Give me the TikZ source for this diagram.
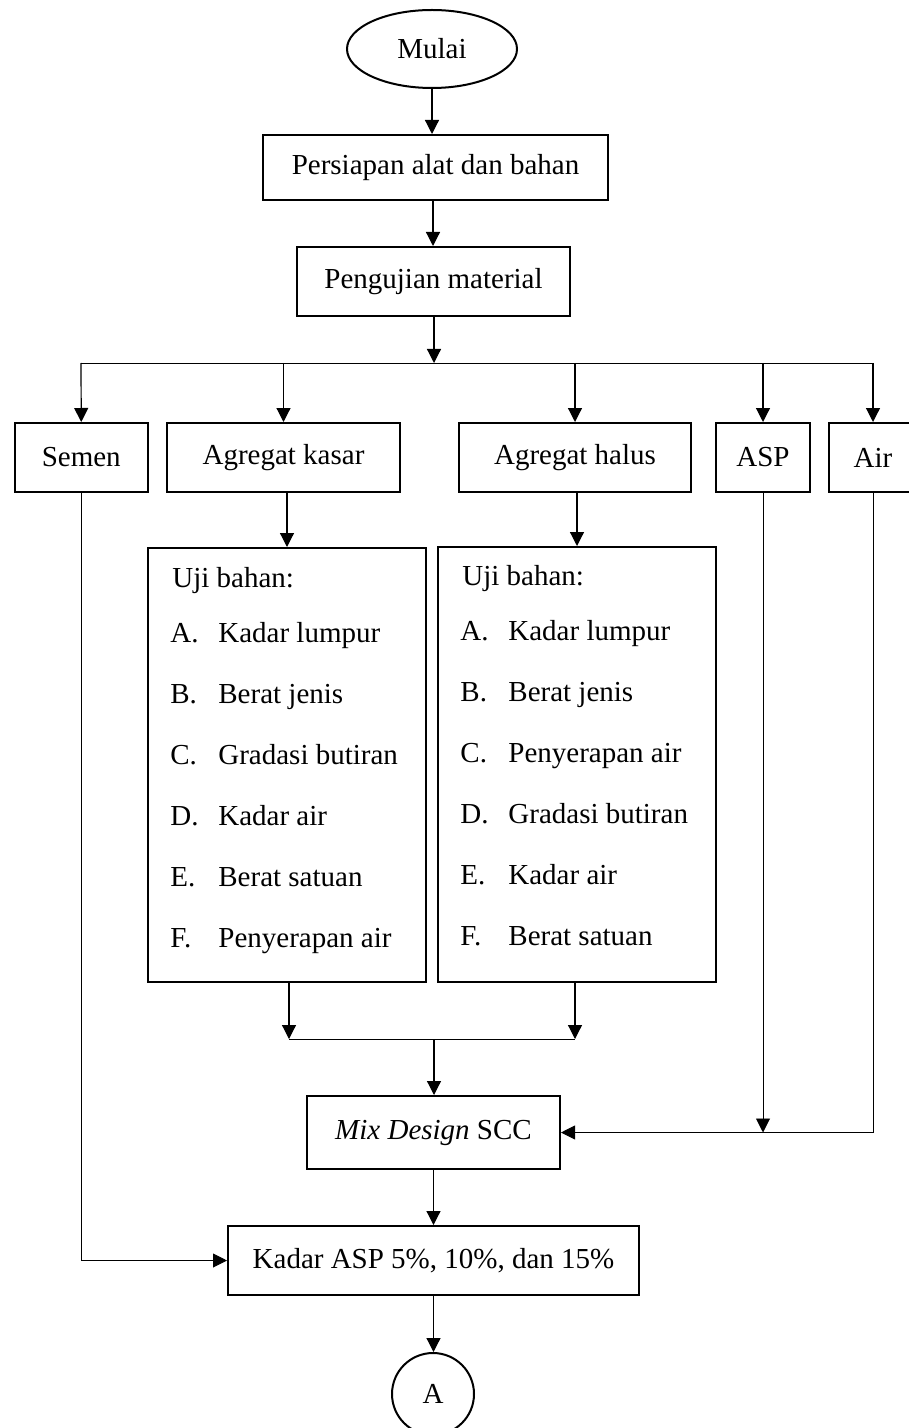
\documentclass[tikz,border=0pt]{standalone}
\usepackage{fontspec}
\setmainfont{Liberation Serif}
\usetikzlibrary{arrows.meta,shapes.geometric}
\newcommand\myfs{\fontsize{14.5pt}{17pt}\selectfont}
\begin{document}
\begin{tikzpicture}[x=0.5pt,y=-0.5pt,
  every node/.style={font=\myfs},
  box/.style={draw,line width=1pt,rectangle,inner sep=0pt,minimum height=34.5pt},
  lbl/.style={anchor=base west,inner sep=0pt},
  arr/.style={line width=0.6pt,-{Triangle[length=7pt,width=7pt]}},
  thin/.style={line width=0.45pt},
  thinarr/.style={line width=0.45pt,-{Triangle[length=7pt,width=7pt]}}]
\useasboundingbox (0,0) rectangle (909,1428);
\clip (0,0) rectangle (909,1428);

\node[draw,line width=1pt,ellipse,inner sep=0pt,minimum width=85pt,minimum height=39pt] (mulai) at (432,49) {Mulai};
\node[box,minimum width=172.5pt,minimum height=32.5pt] (persiapan) at (435.5,167.5) {Persiapan alat dan bahan};
\node[box,minimum width=136.5pt] (pengujian) at (433.5,281.5) {Pengujian material};

\node[box,minimum width=66.75pt] (semen) at (81.25,457.5) {Semen};
\node[box,minimum width=116.5pt] (kasar) at (283.5,457.5) {Agregat kasar};
\node[box,minimum width=116pt] (halus) at (575,457.5) {Agregat halus};
\node[box,minimum width=47pt] (asp) at (763,457.5) {ASP};
\node[box,minimum width=44pt] (air) at (873,457.5) {Air};

\node[box,minimum width=139pt,minimum height=217pt] (ujik) at (287,765) {};
\node[box,minimum width=139pt,minimum height=217.5pt] (ujih) at (577,764.5) {};

\node[lbl] (kU) at (172,587) {Uji bahan:};
\foreach \n/\l/\t [count=\i from 0] in {kA/A./Kadar lumpur,kB/B./Berat jenis,kC/C./Gradasi butiran,kD/D./Kadar air,kE/E./Berat satuan,kF/F./Penyerapan air}{
  \node[lbl] (\n l) at (170,642+61*\i) {\l};
  \node[lbl] (\n t) at (218,642+61*\i) {\t};
}
\node[lbl] (hU) at (462,585) {Uji bahan:};
\foreach \n/\l/\t [count=\i from 0] in {hA/A./Kadar lumpur,hB/B./Berat jenis,hC/C./Penyerapan air,hD/D./Gradasi butiran,hE/E./Kadar air,hF/F./Berat satuan}{
  \node[lbl] (\n l) at (460,640+61*\i) {\l};
  \node[lbl] (\n t) at (508,640+61*\i) {\t};
}

\node[box,minimum width=126.5pt,minimum height=36.5pt] (mix) at (433.5,1132.5) {\textit{Mix Design} SCC};
\node[box,minimum width=205.5pt] (kadar) at (433.5,1260.5) {Kadar ASP 5\%, 10\%, dan 15\%};
\node[draw,line width=1pt,circle,inner sep=0pt,minimum size=41pt] (A) at (433,1394) {A};

% top chain
\draw[arr] (mulai.south) -- (mulai.south |- persiapan.north);
\draw[arr] (persiapan.south -| 433,0) -- (433,0 |- pengujian.north);
\coordinate (br) at (434,363);
\coordinate (bl) at (81,363);
\coordinate (bright) at (873,363);
\draw[arr] (pengujian.south -| br) -- (br);
\draw[thin] (bl) -- (bright);
\draw[arr] (bl) -- (semen.north);
\draw[arr] (kasar.north |- bl) -- (kasar.north);
\draw[arr] (halus.north |- bl) -- (halus.north);
\draw[arr] (asp.north |- bl) -- (asp.north);
\draw[arr] (bright) -- (air.north);

% to test boxes
\draw[arr] (kasar.south -| ujik.north) -- (ujik.north);
\draw[arr] (halus.south -| ujih.north) -- (ujih.north);

% merge
\coordinate (ml) at (289,1039);
\coordinate (mr) at (575,1039);
\coordinate (mm) at (434,1039);
\draw[arr] (ujik.south -| ml) -- (ml);
\draw[arr] (ujih.south -| mr) -- (mr);
\draw[thin] (ml) -- (mr);
\draw[arr] (mm) -- (mm |- mix.north);

% side inputs
\draw[thinarr] (air.south) |- (mix.east);
\draw[thinarr] (asp.south) -- (asp.south |- mix.east);
\draw[thinarr] (semen.south) |- (kadar.west);

% bottom chain
\draw[arr] (mix.south) -- (kadar.north);
\draw[arr] (kadar.south) -- (kadar.south |- A.north);
\end{tikzpicture}
\end{document}
